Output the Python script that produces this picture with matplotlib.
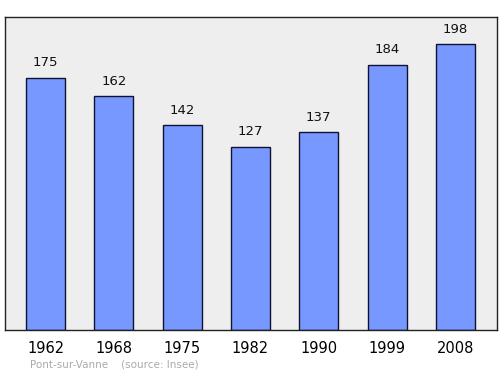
import matplotlib
matplotlib.use("Agg")
import matplotlib.pyplot as plt

years = ["1962", "1968", "1975", "1982", "1990", "1999", "2008"]
population = [175, 162, 142, 127, 137, 184, 198]

fig = plt.figure(figsize=(5, 3.74), dpi=100)
ax = fig.add_axes([0.01, 0.1176, 0.984, 0.837])
ax.set_facecolor("#eeeeee")
x = list(range(len(years)))
ax.bar(x, population, width=0.57, color="#7799ff", edgecolor="#111133", linewidth=1.0, zorder=2)
for xi, v in zip(x, population):
    ax.text(xi, v + 10.3, str(v), ha="center", va="center", fontsize=9.5, color="#111111")
ax.set_xlim(-0.593, 6.608)
ax.set_ylim(0, 217)
ax.set_yticks([])
ax.set_xticks(x)
ax.set_xticklabels(years, fontsize=10.5)
ax.tick_params(axis="x", length=0, pad=8)
for s in ax.spines.values():
    s.set_color("#222222")
    s.set_linewidth(1.0)
fig.text(0.06, 0.012, "Pont-sur-Vanne    (source: Insee)", fontsize=7.5, color="#aaaaaa", ha="left", va="bottom")
fig.savefig("out.png", dpi=100)
